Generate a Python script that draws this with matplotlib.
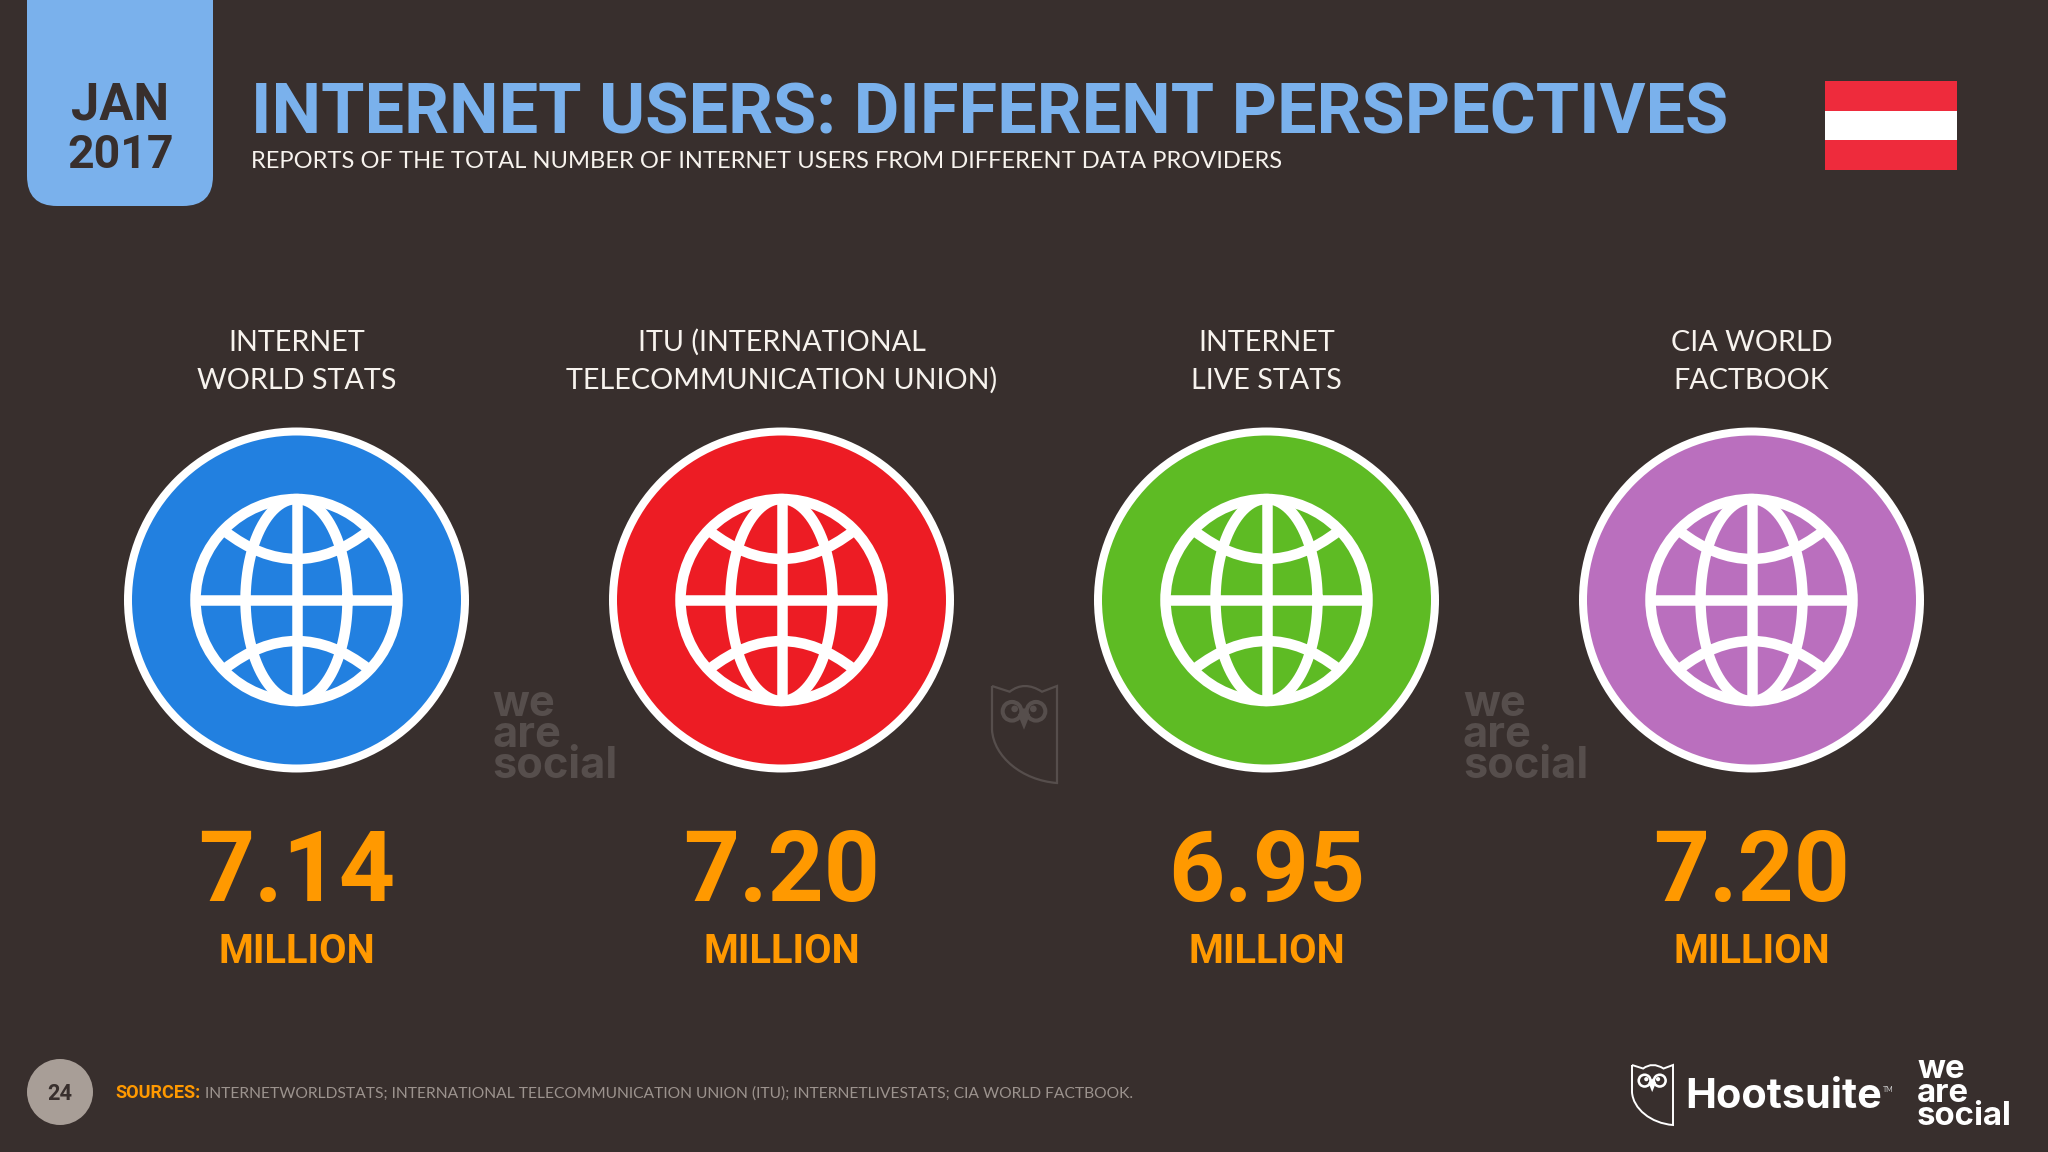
import matplotlib
matplotlib.use("Agg")
import matplotlib.pyplot as plt
import numpy as np
from matplotlib.patches import Circle, FancyBboxPatch, PathPatch, Rectangle, Polygon
from matplotlib.path import Path

# data
providers = ["INTERNET\nWORLD STATS", "ITU (INTERNATIONAL\nTELECOMMUNICATION UNION)",
             "INTERNET\nLIVE STATS", "CIA WORLD\nFACTBOOK"]
users_millions = [7.14, 7.20, 6.95, 7.20]
unit = "MILLION"
circle_colors = ["#2280E0", "#ED1C24", "#5EBB24", "#BA6FBE"]

title = "INTERNET USERS: DIFFERENT PERSPECTIVES"
subtitle = "REPORTS OF THE TOTAL NUMBER OF INTERNET USERS FROM DIFFERENT DATA PROVIDERS"
source_head = "SOURCES:"
source_text = "INTERNETWORLDSTATS; INTERNATIONAL TELECOMMUNICATION UNION (ITU); INTERNETLIVESTATS; CIA WORLD FACTBOOK."
page_no = "24"
wordmark = "we\nare\nsocial"

BG = "#382F2D"
TAB = "#7AB1EC"
ORANGE = "#FF9900"
CREAM = "#F7F3EE"
WATER = "#564E4C"
BOLD = "Roboto"
LIGHT = "Lato"

fig = plt.figure(figsize=(20.48, 11.52), dpi=100, facecolor=BG)
ax = fig.add_axes([0, 0, 1, 1])
ax.set_xlim(0, 2048)
ax.set_ylim(1152, 0)
ax.axis("off")
renderer = fig.canvas.get_renderer()


def fit_text(s, x, y, width, size=30, **kw):
    # scale the font so the text gets the wanted pixel width
    kw.setdefault("va", "baseline")
    t = ax.text(x, y, s, fontsize=size, **kw)
    w = t.get_window_extent(renderer).width
    t.set_fontsize(size * width / w)
    return t


def draw_globe(cx, cy, color="white", r=101, lw_px=10.5):
    lw = lw_px * 0.72
    ring = Circle((cx, cy), r, fc="none", ec=color, lw=lw, zorder=4)
    ax.add_patch(ring)
    clip = Circle((cx, cy), r, transform=ax.transData)
    ax.plot([cx, cx], [cy - r, cy + r], color=color, lw=lw, solid_capstyle="butt", zorder=4)
    ax.plot([cx - r, cx + r], [cy, cy], color=color, lw=lw, solid_capstyle="butt", zorder=4)
    t = np.linspace(0, 2 * np.pi, 200)
    ax.plot(cx + 51 * np.cos(t), cy + r * np.sin(t), color=color, lw=lw, zorder=4)
    for sign in (-1, 1):
        verts = [(cx - 72, cy + sign * 69), (cx, cy + sign * 13), (cx + 72, cy + sign * 69)]
        arc = Path(verts, [Path.MOVETO, Path.CURVE3, Path.CURVE3])
        p = PathPatch(arc, fc="none", ec=color, lw=lw, capstyle="butt", zorder=4)
        ax.add_patch(p)
        p.set_clip_path(clip)


def draw_owl(x0, y0, w, h, color, lw):
    # shape taken from the logo, in a 195 x 288 box
    sx = w / 195
    sy = h / 288
    verts = [(0, 0), (53, 17), (97, -17), (150, 17), (195, 0), (195, 288),
             (90, 280), (5, 210), (0, 130), (0, 0)]
    codes = [Path.MOVETO, Path.LINETO, Path.CURVE3, Path.CURVE3, Path.LINETO, Path.LINETO,
             Path.CURVE4, Path.CURVE4, Path.CURVE4, Path.LINETO]
    pts = [(x0 + a * sx, y0 + b * sy) for a, b in verts]
    ax.add_patch(PathPatch(Path(pts, codes), fc="none", ec=color, lw=lw, joinstyle="miter", zorder=2))
    for ex in (60, 132):
        ax.add_patch(Circle((x0 + ex * sx, y0 + 75 * sy), 28 * sx, fc="none", ec=color, lw=0.045 * w, zorder=2))
    ax.add_patch(Circle((x0 + 68 * sx, y0 + 68 * sy), 10 * sx, fc=color, ec="none", zorder=2))
    ax.add_patch(Circle((x0 + 124 * sx, y0 + 68 * sy), 10 * sx, fc=color, ec="none", zorder=2))
    beak = [(78, 85), (96, 65), (114, 85), (96, 130)]
    ax.add_patch(Polygon([(x0 + a * sx, y0 + b * sy) for a, b in beak], fc=color, ec="none", zorder=2))


# date tab
ax.add_patch(FancyBboxPatch((27 + 30, -60), 186 - 60, 236, boxstyle="round,pad=30,rounding_size=30",
                            fc=TAB, ec="none", zorder=1))
fit_text("JAN", 120, 119, 98, color=BG, family=BOLD, weight="bold", ha="center", zorder=2)
fit_text("2017", 121, 168, 107, color=BG, family=BOLD, weight="bold", ha="center", zorder=2)

# header
fit_text(title, 251, 133, 1476, size=50, color=TAB, family=BOLD, weight="bold")
fit_text(subtitle, 251, 168, 1029, size=18, color=CREAM, family=LIGHT)

# flag
ax.add_patch(Rectangle((1825, 81), 132, 89, fc="#EE2B3C", ec="none"))
ax.add_patch(Rectangle((1825, 111), 132, 29, fc="white", ec="none"))

# columns
xs = 296.5 + 485 * np.arange(len(providers))
for x, name, val, col in zip(xs, providers, users_millions, circle_colors):
    line1, line2 = name.split("\n")
    ax.text(x, 351, line1, fontsize=20.7, color=CREAM, family=LIGHT, ha="center", va="baseline")
    ax.text(x, 389, line2, fontsize=20.7, color=CREAM, family=LIGHT, ha="center", va="baseline")
    ax.add_patch(Circle((x, 600), 168.5, fc=col, ec="white", lw=8 * 0.72, zorder=3))
    draw_globe(x, 600)
    fit_text(f"{val:.2f}", x, 901, 197, size=70, color=ORANGE, family=BOLD, weight="bold", ha="center")
    fit_text(unit, x, 963, 156, size=30, color=ORANGE, family=BOLD, weight="bold", ha="center")

# watermarks
for wx in (492, 1463):
    fit_text(wordmark, wx, 778, 125, color=WATER, family="Inter", weight="bold",
             linespacing=0.68, zorder=2)
draw_owl(992, 686, 65, 97, WATER, 1.6)

# footer
ax.add_patch(Circle((60, 1092), 33, fc="#A89E97", ec="none"))
fit_text(page_no, 60, 1100, 25, color=BG, family=BOLD, weight="bold", ha="center")
fit_text(source_head, 115, 1098, 85, size=13, color=ORANGE, family=BOLD, weight="bold")
fit_text(source_text, 205, 1098, 928, size=13, color="#9C938E", family=LIGHT)

draw_owl(1632, 1065, 41, 60, "white", 1.4)
fit_text("Hootsuite", 1685, 1108, 197, size=30, color="white", family="Inter", weight="bold")
ax.text(1883, 1092, "TM", fontsize=5, color="#CCCCCC", family=LIGHT)
fit_text(wordmark, 1917, 1125, 95, color="white", family="Inter", weight="bold", linespacing=0.68)

fig.savefig("out.png", dpi=100, facecolor=BG)
